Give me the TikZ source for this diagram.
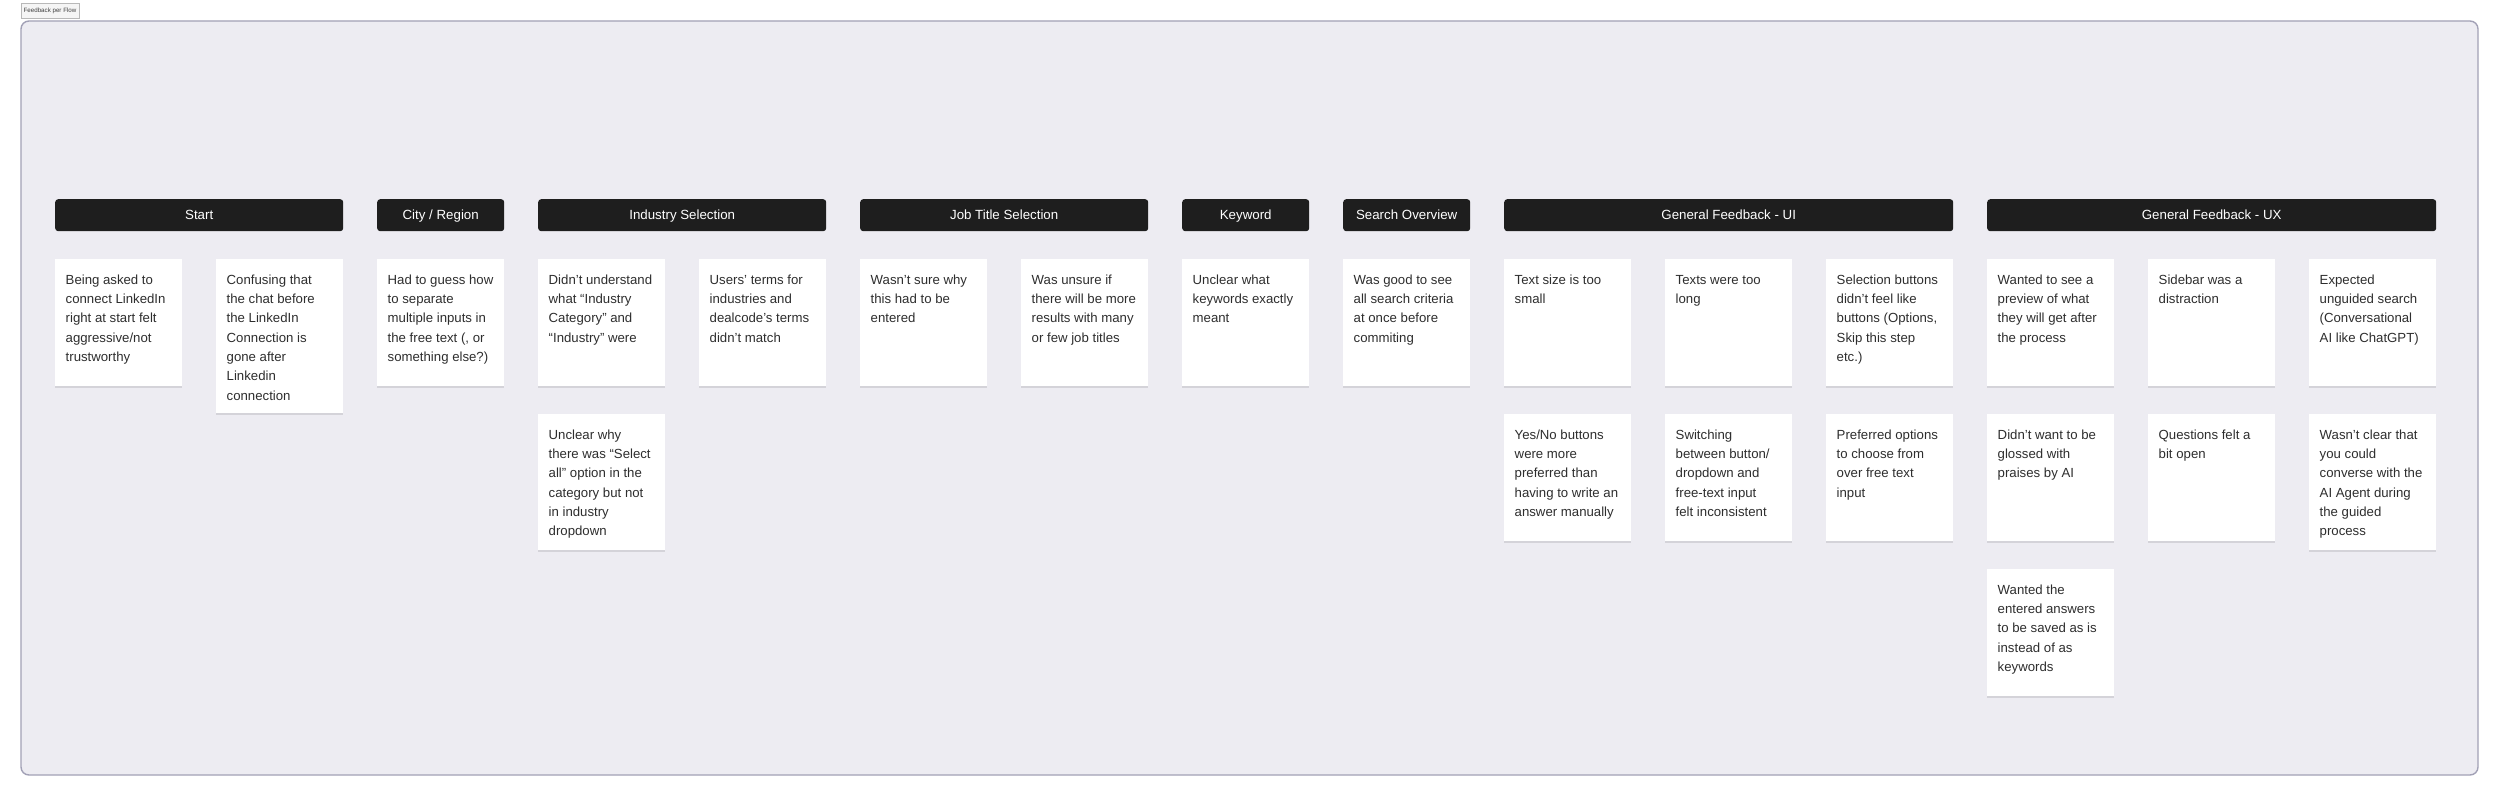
\documentclass[tikz,border=0pt]{standalone}
\usepackage{fontspec}
\setmainfont{Liberation Sans}
\usetikzlibrary{shadows}
\definecolor{framefill}{HTML}{EDECF2}
\definecolor{frameline}{HTML}{A2A1B6}
\definecolor{headfill}{HTML}{1E1E1E}
\definecolor{cardtext}{HTML}{2E2E2E}
\tikzset{
  board/.style={draw=frameline, line width=1.4pt, fill=framefill, rounded corners=8pt},
  tab/.style={draw=black!28, line width=0.6pt, fill=black!4, inner sep=0pt, minimum width=58pt, minimum height=15pt, font=\fontsize{6.2}{7}\selectfont, text=black!75},
  header/.style={fill=headfill, rounded corners=3pt, minimum height=32pt, inner sep=0pt, text height=9.5pt, text depth=0pt, text=white, font=\fontsize{13.3}{16}\selectfont, anchor=north west},
  cardbox/.style={fill=white, minimum width=127pt, inner sep=0pt, anchor=north west,
    drop shadow={shadow xshift=0pt, shadow yshift=-2pt, opacity=0.10, fill=black}},
  cardtxt/.style={anchor=north west, inner sep=0pt, align=left, text=cardtext, font=\fontsize{13.2}{19.3}\selectfont}
}
\newcommand\mycard[5]{%
  \node[cardbox, minimum height=#4pt] (#1) at (#2,#3) {};
  \node[cardtxt] (#1t) at ([xshift=10.5pt,yshift=-15pt]#1.north west) {\rule{0pt}{10pt}#5};
}
\begin{document}
\begin{tikzpicture}[x=1pt,y=-1pt]
\useasboundingbox (0,0) rectangle (2500,797);
\fill[white] (0,0) rectangle (2500,797);
\path[board] (21,21) rectangle (2478,775);
\node[tab] (title) at (50,10.5) {Feedback per Flow};
% headers
\node[header, minimum width=288pt] (hStart) at (55,199) {Start};
\node[header, minimum width=127pt] (hCity) at (377,199) {City / Region};
\node[header, minimum width=288pt] (hInd) at (538,199) {Industry Selection};
\node[header, minimum width=288pt] (hJob) at (860,199) {Job Title Selection};
\node[header, minimum width=127pt] (hKey) at (1182,199) {Keyword};
\node[header, minimum width=127pt] (hSearch) at (1343,199) {Search Overview};
\node[header, minimum width=449pt] (hUI) at (1504,199) {General Feedback - UI};
\node[header, minimum width=449pt] (hUX) at (1987,199) {General Feedback - UX};
% row 1
\mycard{a0}{55}{259}{127}{Being asked to\\connect LinkedIn\\right at start felt\\aggressive/not\\trustworthy}
\mycard{a1}{216}{259}{154}{Confusing that\\the chat before\\the LinkedIn\\Connection is\\gone after\\Linkedin\\connection}
\mycard{a2}{377}{259}{127}{Had to guess how\\to separate\\multiple inputs in\\the free text (, or\\something else?)}
\mycard{a3}{538}{259}{127}{Didn’t understand\\what “Industry\\Category” and\\“Industry” were}
\mycard{a4}{699}{259}{127}{Users’ terms for\\industries and\\dealcode’s terms\\didn’t match}
\mycard{a5}{860}{259}{127}{Wasn’t sure why\\this had to be\\entered}
\mycard{a6}{1021}{259}{127}{Was unsure if\\there will be more\\results with many\\or few job titles}
\mycard{a7}{1182}{259}{127}{Unclear what\\keywords exactly\\meant}
\mycard{a8}{1343}{259}{127}{Was good to see\\all search criteria\\at once before\\commiting}
\mycard{a9}{1504}{259}{127}{Text size is too\\small}
\mycard{a10}{1665}{259}{127}{Texts were too\\long}
\mycard{a11}{1826}{259}{127}{Selection buttons\\didn’t feel like\\buttons (Options,\\Skip this step\\etc.)}
\mycard{a12}{1987}{259}{127}{Wanted to see a\\preview of what\\they will get after\\the process}
\mycard{a13}{2148}{259}{127}{Sidebar was a\\distraction}
\mycard{a14}{2309}{259}{127}{Expected\\unguided search\\(Conversational\\AI like ChatGPT)}
% row 2
\mycard{b3}{538}{414}{136}{Unclear why\\there was “Select\\all” option in the\\category but not\\in industry\\dropdown}
\mycard{b9}{1504}{414}{127}{Yes/No buttons\\were more\\preferred than\\having to write an\\answer manually}
\mycard{b10}{1665}{414}{127}{Switching\\between button/\\dropdown and\\free-text input\\felt inconsistent}
\mycard{b11}{1826}{414}{127}{Preferred options\\to choose from\\over free text\\input}
\mycard{b12}{1987}{414}{127}{Didn’t want to be\\glossed with\\praises by AI}
\mycard{b13}{2148}{414}{127}{Questions felt a\\bit open}
\mycard{b14}{2309}{414}{136}{Wasn’t clear that\\you could\\converse with the\\AI Agent during\\the guided\\process}
% row 3
\mycard{c12}{1987}{569}{127}{Wanted the\\entered answers\\to be saved as is\\instead of as\\keywords}
\end{tikzpicture}
\end{document}
